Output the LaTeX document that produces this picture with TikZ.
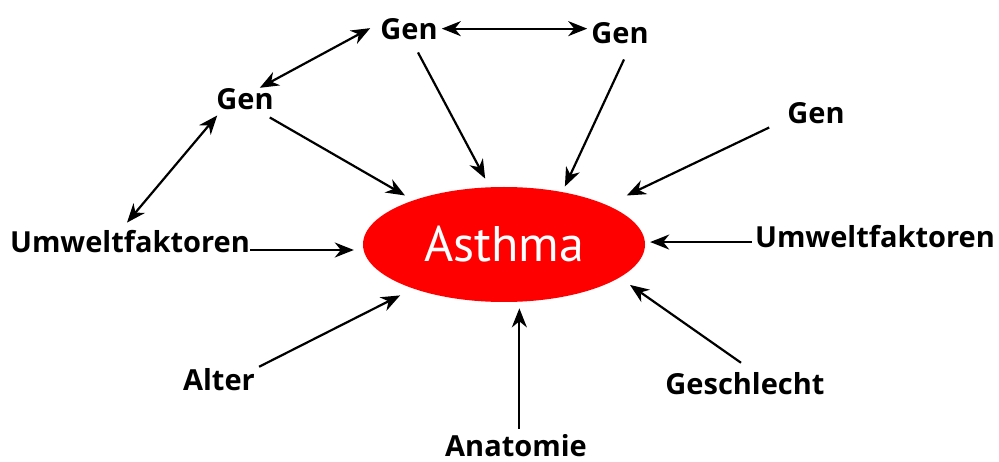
\documentclass[tikz,border=0pt]{standalone}
\usepackage{fontspec}
\setmainfont{PT Sans}
\newfontfamily\lblfont{Open Sans}
\usetikzlibrary{shapes.geometric,arrows.meta,calc}
\begin{document}
\begin{tikzpicture}[x=1pt,y=-1pt,
  lbl/.style={font=\lblfont\bfseries\fontsize{29}{29}\selectfont, inner sep=0pt, anchor=base},
  tip/.style={},
  arr/.style={line width=2.2pt, -{Stealth[length=19pt,width=15pt,inset=6pt]}},
  dbl/.style={line width=2.2pt, {Stealth[length=19pt,width=15pt,inset=6pt]}-{Stealth[length=19pt,width=15pt,inset=6pt]}}]
\useasboundingbox (0,0) rectangle (999,462);
\node[ellipse, fill=red, minimum width=282pt, minimum height=115pt, inner sep=0pt,
      text=white, font=\fontsize{50}{50}\selectfont] (asthma) at (504,244.5) {Asthma};
\node[lbl] (genA) at (409,40) {Gen};
\node[lbl] (genB) at (620,44) {Gen};
\node[lbl] (genL) at (245,110) {Gen};
\node[lbl] (genR) at (816,124) {Gen};
\node[lbl] (umwL) at (130,253) {Umweltfaktoren};
\node[lbl] (umwR) at (875,248) {Umweltfaktoren};
\node[lbl] (alter) at (219,390) {Alter};
\node[lbl] (anat) at (516,456) {Anatomie};
\node[lbl] (gesch) at (745,395) {Geschlecht};
% bidirectional
\draw[dbl] ($(genA.east)+(4,-1)$) -- ($(genB.west)+(-4,-5)$);
\draw[dbl] ($(genL.north east)+(-14,-1)$) -- ($(genA.west)+(-10,-1.5)$);
\draw[dbl] ($(umwL.north)+(-3,-8)$) -- ($(genL.south west)+(1,5)$);
% into asthma
\draw[arr, shorten >=9pt] ($(umwL.base east)+(0,-3)$) coordinate (u) -- (u -| asthma.west);
\draw[arr, shorten >=5pt] ($(umwR.west)+(-3,5)$) coordinate (v) -- (v -| asthma.east);
\draw[arr, shorten >=9.6pt] ($(genL.south east)+(-4,7)$) -- (asthma.154.8);
\draw[arr, shorten >=9.6pt] ($(genA.south)+(9,12)$) -- (asthma.104.3);
\draw[arr, shorten >=6pt] ($(genB.south)+(4,15)$) -- (asthma.42.8);
\draw[arr, shorten >=22pt] ($(genR.south west)+(-18,3)$) -- (asthma.21);
\draw[arr, shorten >=12.7pt] ($(gesch.north)+(-4,-10)$) -- (asthma.-16.6);
\draw[arr, shorten >=6.5pt] ($(asthma.-75 |- anat.north)+(0,-5)$) -- (asthma.-75);
\draw[arr, shorten >=14.8pt] ($(alter.north east)+(4,-1)$) -- (asthma.-154.1);
\end{tikzpicture}
\end{document}
